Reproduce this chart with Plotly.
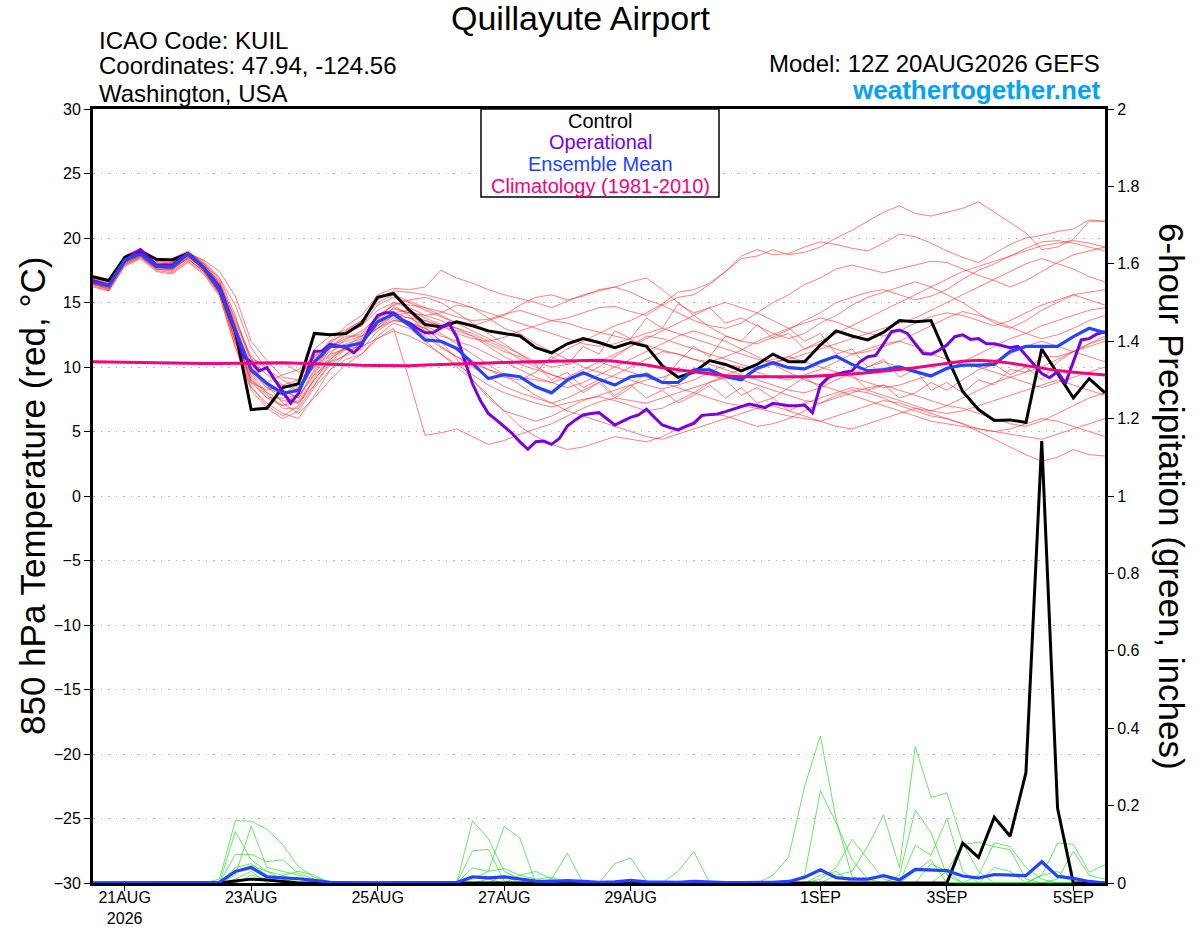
import pandas as pd
import plotly.graph_objects as go

# ---------------- DATA ----------------
run_start = "2026-08-20 12:00"
times6 = pd.date_range(run_start, periods=65, freq="6h")
times3 = pd.date_range(run_start, periods=129, freq="3h")

tick_dates = ["2026-08-21", "2026-08-23", "2026-08-25", "2026-08-27",
              "2026-08-29", "2026-09-01", "2026-09-03", "2026-09-05"]
tick_labels = ["21AUG<br>2026", "23AUG", "25AUG", "27AUG", "29AUG", "1SEP", "3SEP", "5SEP"]

temp_ticks = [30, 25, 20, 15, 10, 5, 0, -5, -10, -15, -20, -25, -30]
precip_ticks = [2, 1.8, 1.6, 1.4, 1.2, 1, 0.8, 0.6, 0.4, 0.2, 0]

control_temp = [17.0, 16.7, 18.5, 19.0, 18.35, 18.3, 18.8, 17.7, 16.0, 12.8, 6.7, 6.8, 8.4, 8.7,
                12.6, 12.5, 12.6, 13.4, 15.4, 15.7, 14.4, 13.3, 13.1, 13.5, 13.2, 12.8, 12.6,
                12.4, 11.5, 11.1, 11.8, 12.2, 11.9, 11.5, 11.9, 11.6, 10.1, 9.2, 9.6, 10.5, 10.2,
                9.7, 10.2, 11.0, 10.4, 10.4, 11.7, 12.8, 12.4, 12.1, 12.7, 13.6, 13.5, 13.6,
                10.8, 8.1, 6.7, 5.85, 5.9, 5.7, 11.4, 9.5, 7.6, 9.1, 8.0]

operational_temp = [16.7, 16.5, 16.3, 17.3, 18.2, 18.7, 19.1, 18.5, 17.9, 17.9, 17.9, 18.4, 18.8,
                    18.3, 17.7, 17.0, 16.2, 14.6, 12.8, 10.8, 10.4, 9.7, 9.95, 9.0, 8.1, 7.2, 7.96,
                    9.5, 11.2, 11.25, 11.76, 11.6, 11.5, 11.1, 11.7, 13.05, 14.0, 14.2, 14.2, 13.7,
                    13.4, 13.0, 12.65, 12.65, 13.0, 13.4, 12.35, 10.5, 8.7, 7.4, 6.4, 5.9, 5.4,
                    4.86, 4.2, 3.62, 4.21, 4.26, 4.0, 4.47, 5.43, 5.9, 6.28, 6.4, 6.46, 6.0, 5.5,
                    5.8, 6.1, 6.28, 6.72, 6.1, 5.5, 5.3, 5.12, 5.4, 5.63, 6.25, 6.3, 6.36, 6.54,
                    6.72, 6.9, 7.13, 7.0, 6.85, 7.19, 7.1, 7.0, 7.0, 7.05, 6.46, 8.6, 9.2, 9.43,
                    9.6, 9.7, 10.4, 10.8, 10.9, 11.8, 12.74, 12.87, 12.6, 11.8, 11.05, 11.0, 11.3,
                    11.7, 12.35, 12.5, 12.14, 12.2, 11.8, 11.8, 11.65, 11.5, 11.6, 10.9, 10.15,
                    9.5, 9.17, 9.64, 8.73, 10.5, 12.1, 12.2, 12.56, 12.74]

ens_mean_temp = [16.6, 16.3, 18.3, 18.76, 17.8, 17.75, 18.76, 17.7, 16.0, 12.87, 9.77, 8.73, 7.96,
                 8.2, 10.4, 11.6, 11.6, 11.85, 13.5, 14.1, 13.25, 12.1, 12.0, 11.45, 10.3, 9.1,
                 9.4, 9.25, 8.47, 8.0, 9.0, 9.56, 9.05, 8.6, 9.25, 9.4, 8.8, 8.8, 9.77, 9.77,
                 9.25, 9.0, 9.9, 10.34, 9.95, 9.85, 10.4, 10.83, 10.2, 9.7, 9.8, 10.0, 9.64, 9.3,
                 9.9, 10.15, 10.15, 10.2, 11.2, 11.6, 11.6, 11.6, 12.35, 13.0, 12.66]

climatology_temp = [10.4, 10.38, 10.35, 10.33, 10.3, 10.28, 10.27, 10.27, 10.28, 10.3, 10.31,
                    10.32, 10.32, 10.3, 10.25, 10.2, 10.15, 10.13, 10.12, 10.1, 10.1, 10.15, 10.2,
                    10.25, 10.3, 10.33, 10.35, 10.38, 10.4, 10.43, 10.46, 10.5, 10.53, 10.45,
                    10.32, 10.15, 9.95, 9.8, 9.62, 9.45, 9.32, 9.25, 9.23, 9.23, 9.24, 9.25, 9.3,
                    9.38, 9.45, 9.55, 9.68, 9.8, 9.95, 10.12, 10.3, 10.45, 10.53, 10.45, 10.3,
                    10.12, 9.9, 9.72, 9.6, 9.48, 9.38]

member_temps = [
    [16.4, 16.1, 18.0, 18.6, 17.6, 17.5, 18.5, 18.0, 16.9, 14.8, 11.5, 9.8, 8.2, 7.6, 9.5, 11.0, 12.2, 12.8, 13.8, 14.5, 14.2, 13.6, 13.2, 12.8, 12.4, 11.8, 11.2, 10.8, 10.2, 10.6, 11.4, 12.0, 12.6, 13.2, 13.6, 14.2, 14.9, 15.8, 16.0, 16.5, 17.4, 18.4, 18.6, 19.1, 18.7, 18.9, 19.3, 20.0, 20.6, 21.3, 22.0, 22.5, 21.9, 21.7, 22.0, 22.3, 22.8, 22.0, 21.2, 20.4, 19.1, 19.3, 19.9, 21.3, 21.3],
    [16.8, 16.5, 18.6, 19.2, 18.2, 18.0, 18.9, 18.2, 16.9, 14.0, 10.2, 8.6, 7.8, 8.8, 11.4, 12.4, 12.9, 13.6, 15.0, 15.6, 15.1, 14.6, 14.3, 13.9, 13.6, 13.7, 14.1, 14.4, 14.0, 13.6, 13.8, 14.2, 14.6, 14.7, 14.3, 14.0, 14.8, 15.4, 15.6, 16.4, 17.4, 18.6, 19.1, 18.7, 18.8, 19.3, 19.7, 19.5, 19.2, 19.0, 19.6, 20.3, 20.1, 19.6, 19.0, 18.5, 18.1, 18.8, 19.5, 20.0, 20.2, 20.5, 20.7, 21.4, 21.3],
    [16.5, 16.2, 18.2, 18.9, 17.8, 17.9, 18.8, 18.3, 17.4, 15.5, 12.0, 10.5, 9.2, 9.0, 10.8, 12.0, 13.2, 14.0, 15.6, 16.1, 16.0, 16.2, 17.5, 16.9, 16.5, 16.0, 15.6, 15.3, 15.0, 14.6, 15.1, 15.6, 15.9, 16.2, 15.8, 15.2, 14.8, 14.2, 13.6, 13.2, 13.0, 13.4, 14.2, 15.0, 15.6, 16.4, 16.9, 17.6, 17.9, 17.6, 17.3, 17.6, 17.9, 18.2, 18.1, 17.6, 17.1, 16.7, 16.2, 16.7, 17.4, 18.1, 18.7, 19.0, 19.3],
    [16.7, 16.4, 18.4, 19.0, 18.0, 17.7, 18.6, 17.7, 16.2, 12.5, 8.8, 7.6, 7.0, 8.0, 10.6, 12.0, 12.6, 13.2, 14.8, 15.4, 15.0, 14.4, 13.9, 13.4, 13.2, 13.6, 14.0, 14.8, 15.4, 15.6, 15.2, 15.5, 16.0, 16.2, 16.6, 16.9, 16.0, 15.0, 14.0, 13.1, 12.4, 12.0, 11.8, 12.3, 12.9, 13.6, 14.2, 15.0, 15.4, 15.8, 16.0, 15.6, 15.2, 15.5, 16.0, 16.8, 17.5, 18.0, 18.6, 19.2, 19.7, 19.8, 19.6, 19.3, 19.0],
    [16.5, 16.0, 18.1, 18.7, 17.9, 17.6, 18.4, 17.4, 15.8, 12.2, 9.0, 8.0, 7.4, 7.2, 9.0, 10.6, 11.5, 12.1, 13.5, 14.6, 14.2, 13.1, 12.0, 11.3, 10.5, 9.8, 9.2, 9.0, 9.6, 10.8, 10.2, 11.6, 11.0, 12.8, 12.2, 13.8, 13.0, 14.9, 14.2, 14.6, 13.4, 13.8, 13.2, 12.6, 12.2, 12.6, 13.4, 14.0, 14.8, 15.4, 15.8, 16.2, 16.6, 16.2, 15.6, 15.0, 14.2, 13.4, 13.0, 13.6, 14.4, 15.0, 15.6, 15.8, 16.0],
    [16.9, 16.6, 18.5, 19.1, 18.3, 18.4, 19.0, 18.0, 16.5, 13.0, 9.5, 8.4, 8.2, 7.6, 9.8, 11.6, 12.4, 12.4, 13.0, 14.0, 13.8, 13.6, 13.2, 12.6, 12.2, 12.0, 12.3, 12.8, 13.2, 13.6, 13.4, 13.0, 12.7, 12.4, 12.1, 11.7, 11.3, 11.0, 10.6, 10.4, 10.8, 11.3, 12.0, 12.5, 13.0, 13.4, 13.8, 13.5, 13.0, 12.6, 12.4, 12.8, 13.4, 13.9, 14.2, 14.0, 13.6, 13.2, 13.6, 14.2, 14.8, 15.2, 15.6, 15.2, 14.8],
    [16.3, 15.9, 17.9, 18.5, 17.5, 17.3, 18.2, 17.3, 15.6, 11.6, 8.4, 7.2, 6.4, 6.0, 7.8, 9.8, 11.0, 11.9, 13.2, 14.2, 14.4, 13.8, 13.3, 13.0, 12.6, 12.0, 11.4, 10.6, 10.0, 9.4, 9.0, 8.0, 8.8, 7.6, 8.4, 9.6, 8.8, 10.4, 11.6, 10.8, 12.4, 12.0, 13.3, 12.2, 12.6, 11.4, 11.8, 11.4, 11.0, 11.2, 11.6, 12.0, 12.6, 13.2, 13.8, 14.3, 14.0, 13.6, 13.1, 12.6, 12.2, 12.5, 13.0, 13.6, 14.0],
    [16.6, 16.3, 18.2, 18.8, 17.7, 17.8, 18.7, 17.9, 16.6, 13.4, 10.6, 10.2, 10.4, 9.6, 10.3, 11.2, 11.8, 12.2, 13.6, 15.0, 14.6, 14.0, 14.2, 14.8, 14.6, 13.8, 13.0, 12.6, 11.8, 11.2, 10.6, 10.0, 9.6, 9.2, 9.0, 8.6, 8.3, 8.6, 9.0, 9.6, 10.2, 10.0, 9.6, 9.2, 9.0, 9.4, 9.8, 10.4, 11.0, 11.4, 11.8, 12.0, 11.6, 11.0, 10.6, 10.2, 10.0, 10.5, 11.0, 11.6, 12.0, 11.6, 11.2, 11.6, 12.0],
    [16.4, 16.2, 18.1, 18.6, 17.8, 17.5, 18.5, 17.6, 15.9, 12.0, 8.5, 7.0, 6.2, 7.0, 9.2, 10.8, 11.6, 12.0, 13.0, 13.8, 13.2, 12.4, 11.5, 10.8, 10.0, 9.2, 8.5, 8.0, 7.6, 7.2, 7.6, 8.2, 8.8, 9.4, 10.0, 10.6, 11.2, 11.0, 10.6, 10.2, 9.8, 9.4, 9.0, 8.6, 8.2, 8.0, 8.4, 9.0, 9.5, 10.0, 10.4, 10.0, 9.6, 9.4, 9.8, 10.4, 11.0, 11.6, 12.2, 12.6, 13.2, 13.6, 14.0, 14.4, 14.6],
    [16.8, 16.4, 18.4, 19.0, 17.9, 18.1, 18.8, 17.6, 16.0, 12.3, 9.0, 7.6, 7.6, 7.8, 9.4, 10.4, 10.9, 11.4, 12.8, 13.6, 13.5, 13.0, 12.0, 10.6, 9.0, 7.6, 6.6, 6.2, 5.8, 6.2, 6.8, 7.4, 7.8, 8.2, 8.6, 9.0, 9.2, 9.6, 9.8, 9.4, 9.0, 7.8, 8.4, 7.6, 8.4, 9.2, 8.4, 9.6, 9.4, 8.2, 8.6, 7.6, 8.0, 8.8, 8.2, 9.0, 9.8, 10.2, 9.4, 10.0, 9.0, 10.4, 11.2, 11.8, 12.4],
    [16.6, 16.2, 18.3, 18.9, 18.0, 17.9, 18.6, 17.5, 15.7, 11.9, 8.8, 8.2, 8.6, 9.0, 10.0, 11.0, 11.4, 11.6, 12.2, 12.8, 12.4, 11.8, 11.0, 10.2, 9.4, 8.6, 8.0, 7.6, 7.2, 6.9, 7.2, 7.5, 7.7, 7.4, 7.0, 6.6, 6.8, 7.4, 8.0, 8.8, 9.4, 9.8, 10.2, 10.6, 10.8, 10.4, 10.0, 9.6, 9.2, 8.8, 8.4, 8.6, 9.0, 9.4, 9.8, 10.2, 10.0, 9.6, 9.2, 8.8, 8.4, 8.8, 9.2, 9.6, 10.0],
    [16.2, 15.9, 17.8, 18.4, 17.4, 17.2, 18.1, 17.2, 15.5, 11.5, 8.2, 6.8, 6.0, 6.6, 8.4, 9.8, 10.6, 11.0, 12.2, 13.0, 9.0, 4.7, 4.9, 5.2, 4.6, 4.0, 4.3, 4.8, 5.2, 5.6, 6.2, 6.8, 7.3, 7.6, 7.4, 7.2, 7.6, 8.0, 8.4, 8.8, 9.2, 9.0, 8.6, 8.2, 7.8, 7.4, 7.2, 7.6, 8.0, 8.4, 8.6, 8.2, 7.8, 7.4, 7.0, 6.8, 6.4, 6.0, 5.6, 5.4, 5.8, 6.4, 7.0, 7.6, 8.0],
    [16.7, 16.3, 18.2, 18.7, 17.7, 17.6, 18.5, 17.7, 16.1, 12.6, 9.6, 8.6, 7.2, 6.4, 7.6, 9.0, 10.2, 11.0, 12.4, 13.4, 13.0, 12.0, 11.0, 10.0, 9.0, 7.8, 6.6, 5.4, 4.6, 4.0, 3.6, 3.8, 4.2, 4.6, 4.4, 4.2, 4.6, 5.2, 5.8, 6.4, 6.2, 5.8, 5.4, 5.6, 6.0, 6.6, 7.2, 7.8, 8.2, 8.0, 7.6, 7.0, 6.6, 6.2, 6.0, 5.6, 5.2, 5.0, 4.8, 4.6, 4.4, 4.8, 5.2, 5.6, 6.0],
    [16.5, 16.1, 18.0, 18.6, 17.6, 17.4, 18.3, 17.5, 15.8, 12.0, 9.4, 8.0, 6.8, 6.8, 8.6, 10.2, 11.0, 11.8, 13.4, 14.2, 13.8, 13.2, 12.6, 11.8, 11.0, 10.2, 9.4, 8.6, 7.8, 7.2, 6.6, 6.2, 5.8, 5.4, 5.0, 4.6, 4.4, 4.8, 5.2, 5.6, 6.0, 6.4, 6.8, 7.0, 6.6, 6.2, 5.8, 5.4, 5.2, 5.6, 6.0, 6.4, 6.8, 6.4, 6.0, 5.6, 5.0, 4.4, 3.8, 3.2, 2.7, 3.0, 3.6, 3.2, 3.1],
    [16.9, 16.6, 18.6, 19.2, 18.2, 18.1, 18.9, 18.1, 16.7, 13.6, 10.8, 9.8, 9.0, 8.4, 9.6, 11.4, 12.6, 13.2, 14.4, 15.0, 14.8, 14.6, 14.0, 13.4, 12.8, 12.2, 11.6, 11.0, 10.4, 10.0, 10.2, 10.6, 10.4, 10.0, 9.6, 9.2, 8.8, 8.4, 8.0, 7.6, 7.2, 7.0, 6.8, 6.5, 6.2, 6.0, 5.8, 6.2, 6.6, 7.0, 7.4, 7.2, 6.8, 6.6, 7.0, 7.6, 8.2, 8.8, 9.2, 9.6, 10.0, 10.6, 11.2, 11.8, 12.2],
    [16.4, 16.0, 17.9, 18.5, 17.6, 17.6, 18.4, 17.4, 15.7, 12.4, 9.2, 7.8, 7.0, 7.4, 9.0, 10.6, 11.6, 12.4, 13.8, 14.8, 15.2, 15.4, 15.0, 14.2, 13.4, 12.6, 11.8, 11.0, 10.2, 9.0, 9.6, 8.4, 9.0, 7.8, 8.6, 7.6, 8.2, 7.2, 7.8, 8.6, 7.6, 8.4, 7.2, 7.6, 6.6, 7.2, 7.6, 8.0, 8.4, 8.2, 7.8, 7.4, 7.0, 6.6, 6.4, 6.6, 7.0, 7.4, 7.8, 8.2, 8.6, 9.0, 8.6, 8.2, 7.8],
    [16.6, 16.4, 18.4, 18.9, 17.9, 17.8, 18.8, 18.0, 16.5, 13.2, 10.0, 8.8, 7.8, 7.2, 8.6, 10.4, 11.4, 12.0, 13.0, 13.6, 13.4, 13.0, 12.4, 12.0, 11.6, 11.0, 10.4, 9.8, 9.2, 8.8, 8.4, 8.8, 9.4, 10.0, 10.6, 11.2, 11.8, 12.4, 12.8, 12.4, 12.0, 11.4, 10.8, 10.2, 9.6, 9.0, 8.6, 8.2, 7.8, 7.4, 7.0, 6.6, 6.2, 5.8, 5.6, 5.4, 5.2, 5.0, 5.2, 5.6, 6.0, 5.8, 5.4, 5.0, 4.6],
    [16.8, 16.5, 18.5, 19.0, 18.1, 17.9, 18.7, 17.8, 16.4, 13.8, 10.6, 9.4, 8.6, 8.2, 10.2, 11.8, 12.8, 13.6, 15.2, 15.9, 15.8, 15.6, 15.3, 15.0, 14.6, 14.2, 13.8, 13.4, 13.0, 12.6, 12.2, 11.8, 11.6, 11.8, 12.2, 12.6, 13.0, 12.6, 12.2, 11.8, 11.4, 11.0, 10.6, 10.4, 10.6, 11.0, 11.4, 11.8, 12.2, 12.6, 13.0, 13.4, 13.8, 14.4, 15.0, 15.6, 16.2, 16.8, 17.4, 18.0, 18.4, 18.0, 17.6, 17.0, 16.6],
    [16.5, 16.3, 18.2, 18.7, 17.8, 17.7, 18.6, 17.8, 16.2, 12.9, 9.8, 8.4, 7.8, 8.4, 10.0, 11.6, 12.2, 12.6, 14.0, 14.8, 14.0, 12.8, 11.6, 10.8, 10.2, 9.8, 9.4, 9.2, 9.0, 8.8, 9.2, 9.8, 10.4, 11.0, 11.6, 12.2, 12.8, 13.4, 14.0, 14.6, 15.0, 14.6, 14.2, 13.6, 13.0, 12.0, 12.6, 11.0, 11.4, 10.0, 10.6, 9.2, 9.8, 8.2, 8.8, 8.0, 9.0, 8.6, 9.8, 9.6, 10.8, 10.8, 11.2, 10.8, 10.4],
    [16.7, 16.2, 18.1, 18.8, 17.7, 17.9, 18.7, 17.6, 16.0, 12.7, 9.6, 8.8, 9.4, 9.8, 10.8, 11.6, 12.0, 12.4, 13.2, 14.0, 14.2, 14.0, 13.6, 13.0, 12.4, 11.6, 10.8, 10.2, 9.8, 9.4, 9.0, 9.4, 10.0, 10.8, 11.6, 12.4, 12.2, 11.8, 11.4, 11.0, 10.6, 10.2, 9.8, 10.2, 10.8, 11.4, 12.0, 12.6, 13.2, 13.8, 14.4, 15.0, 15.6, 16.2, 16.8, 17.4, 17.8, 18.2, 18.6, 19.0, 19.4, 19.6, 19.8, 19.6, 19.3],
]

control_precip = ([0] * 9 + [0.005, 0.01, 0.008, 0.004] + [0] * 42 +
                  [0.103, 0.066, 0.17, 0.121, 0.285, 1.142, 0.193, 0, 0, 0])

ens_mean_precip = [0, 0, 0, 0, 0, 0, 0, 0, 0.002, 0.03, 0.04, 0.016, 0.014, 0.011, 0.007, 0.002,
                   0.001, 0, 0, 0.001, 0.001, 0.001, 0.001, 0.001, 0.016, 0.013, 0.016, 0.01,
                   0.005, 0.004, 0.006, 0.004, 0.002, 0.003, 0.007, 0.003, 0.002, 0.002, 0.004,
                   0.002, 0.001, 0.001, 0.001, 0.002, 0.004, 0.015, 0.034, 0.014, 0.01, 0.01,
                   0.019, 0.008, 0.035, 0.034, 0.032, 0.018, 0.013, 0.022, 0.021, 0.019, 0.055,
                   0.017, 0.012, 0.004, 0.0]

member_precips = [
    [0] * 8 + [0.01, 0.161, 0.16, 0.139, 0.099, 0.042, 0.015] + [0] * 9 + [0.161, 0.115, 0.03, 0.01]
    + [0] * 15 + [0.02, 0.068, 0.249, 0.38, 0.163, 0.017] + [0] * 5 + [0.03, 0.1, 0.105, 0.094, 0.086, 0.01] + [0] * 5,
    [0] * 9 + [0.133, 0.06, 0.03, 0.01] + [0] * 11 + [0.083, 0.087, 0.005] + [0] * 18
    + [0.02, 0.238, 0.155, 0.06, 0.01] + [0] * 6 + [0.02, 0.104, 0.094, 0.04, 0.01] + [0] * 4,
    [0] * 9 + [0.02, 0.147, 0.04, 0.03, 0.02] + [0] * 10 + [0.01, 0.03, 0.146, 0.116] + [0] * 18
    + [0.01, 0.04, 0.113, 0.06, 0.01] + [0] * 9 + [0.02, 0.103, 0.1, 0.028, 0.047],
    [0] * 9 + [0.074, 0.074, 0.055, 0.06, 0.025, 0.01] + [0] * 9 + [0.039, 0.03, 0.037, 0.02, 0.03, 0.01]
    + [0] * 17 + [0.02, 0.03, 0.095, 0.176, 0.04, 0.352, 0.221, 0.233, 0.103, 0.03] + [0] * 8,
    [0] * 9 + [0.03, 0.045, 0.03, 0.02, 0.03, 0.02] + [0] * 14 + [0.01, 0.077] + [0] * 2
    + [0.05, 0.065, 0.005] + [0] * 15 + [0.02, 0.189, 0.13, 0.02] + [0] * 6 + [0.01, 0.082, 0.02, 0.01],
    [0] * 9 + [0.04, 0.05, 0.02, 0.01] + [0] * 14 + [0.02, 0.01, 0.015] + [0] * 7 + [0.03, 0.081]
    + [0] * 13 + [0.097, 0.072, 0.167, 0.03] + [0] * 9,
    [0] * 10 + [0.02, 0.01] + [0] * 13 + [0.01] + [0] * 20 + [0.02, 0.03] + [0] * 5
    + [0.05, 0.03] + [0] * 2 + [0.04, 0.03] + [0] * 6,
    [0] * 9 + [0.01, 0.03, 0.0, 0.02] + [0] * 13 + [0.02] + [0] * 25 + [0.03, 0.06] + [0] * 6
    + [0.02, 0.03] + [0] * 3,
]

# ---------------- STYLE ----------------
FONT = "Liberation Sans, Arial, sans-serif"
W, H = 1200, 927
# plot area in window pixels: x 93..1105, y 109..883
L, R, T, B = 93, W - 1105, 109, H - 883


def px(x):
    return (x - 93) / 1012


def py(y):
    return (883 - y) / 774


fig = go.Figure()

for m in member_temps:
    fig.add_trace(go.Scatter(x=times6[:len(m)], y=m, mode="lines",
                             line=dict(color="rgba(255,40,40,0.75)", width=0.8),
                             hoverinfo="skip", showlegend=False))

fig.add_trace(go.Scatter(x=times6, y=control_temp, mode="lines",
                         line=dict(color="black", width=3), showlegend=False))
fig.add_trace(go.Scatter(x=times3, y=operational_temp, mode="lines",
                         line=dict(color="#7a00dc", width=3), showlegend=False))
fig.add_trace(go.Scatter(x=times6, y=ens_mean_temp, mode="lines",
                         line=dict(color="#2244ff", width=3.2), showlegend=False))
fig.add_trace(go.Scatter(x=times6, y=climatology_temp, mode="lines",
                         line=dict(color="#f0057f", width=3), showlegend=False))

for m in member_precips:
    fig.add_trace(go.Scatter(x=times6[:len(m)], y=m, mode="lines", yaxis="y2",
                             line=dict(color="rgba(30,220,30,0.85)", width=0.8),
                             hoverinfo="skip", showlegend=False))

fig.add_trace(go.Scatter(x=times6, y=control_precip, mode="lines", yaxis="y2",
                         line=dict(color="black", width=3), showlegend=False))
fig.add_trace(go.Scatter(x=times6, y=ens_mean_precip, mode="lines", yaxis="y2",
                         line=dict(color="#2244ff", width=3.2), showlegend=False))

annotations = [
    dict(text="Quillayute Airport", x=px(580), y=py(18), font=dict(size=34)),
    dict(text="ICAO Code: KUIL", x=px(97), y=py(40), xanchor="left", font=dict(size=24)),
    dict(text="Coordinates: 47.94, -124.56", x=px(97), y=py(66), xanchor="left", font=dict(size=24)),
    dict(text="Washington, USA", x=px(97), y=py(93), xanchor="left", font=dict(size=24)),
    dict(text="Model: 12Z 20AUG2026 GEFS", x=px(1102), y=py(64), xanchor="right", font=dict(size=24)),
    dict(text="<b>weathertogether.net</b>", x=px(1102), y=py(90), xanchor="right",
         font=dict(size=26, color="#06a0f7")),
    dict(text="Control", x=px(600), y=py(121), font=dict(size=20, color="black")),
    dict(text="Operational", x=px(600), y=py(142), font=dict(size=20, color="#7a00dc")),
    dict(text="Ensemble Mean", x=px(600), y=py(164), font=dict(size=20, color="#2244ff")),
    dict(text="Climatology (1981-2010)", x=px(600), y=py(186), font=dict(size=20, color="#f0057f")),
    dict(text="850 hPa Temperature (red, °C)", x=px(32), y=py(496), textangle=-90, font=dict(size=35)),
    dict(text="6-hour Precipitation (green, inches)", x=px(1172), y=py(496), textangle=90,
         font=dict(size=35)),
]
for a in annotations:
    a.setdefault("xanchor", "center")
    a.update(xref="paper", yref="paper", yanchor="middle", showarrow=False)
    a["font"].setdefault("color", "black")
    a["font"]["family"] = FONT

fig.update_layout(
    width=W, height=H,
    margin=dict(l=L, r=R, t=T, b=B, pad=0, autoexpand=False),
    paper_bgcolor="white", plot_bgcolor="white",
    font=dict(family=FONT, color="black", size=16),
    showlegend=False,
    annotations=annotations,
    shapes=[dict(type="rect", xref="paper", yref="paper",
                 x0=px(481), x1=px(719), y0=py(197), y1=1,
                 line=dict(color="black", width=1.5), fillcolor="white", layer="above")],
    xaxis=dict(type="date", range=[times6[0], times6[-1]],
               tickvals=tick_dates, ticktext=tick_labels, tickangle=0,
               ticks="outside", ticklen=5, tickwidth=1.2, tickcolor="black",
               ticklabelstandoff=-7,
               tickfont=dict(size=16), showgrid=False, zeroline=False,
               showline=True, linewidth=3, linecolor="black", mirror=True),
    yaxis=dict(range=[-30, 30], tickvals=temp_ticks, ticks="outside", ticklen=6, tickwidth=1.2,
               tickcolor="black", tickfont=dict(size=16),
               showgrid=True, gridcolor="#b4b4b4", gridwidth=1.2, griddash="1.5px,6px",
               zeroline=False, showline=True, linewidth=3, linecolor="black", mirror=True),
    yaxis2=dict(range=[0, 2], tickvals=precip_ticks, overlaying="y", side="right",
                ticks="outside", ticklen=6, tickwidth=1.2, tickcolor="black",
                tickfont=dict(size=16), showgrid=False, zeroline=False,
                showline=True, linewidth=3, linecolor="black"),
)

# remove the page's default 8px body margin so the 1200x927 figure fills the window exactly
fig.write_html("out.html", config={"displayModeBar": False},
               post_script="document.body.style.margin='0px';")
